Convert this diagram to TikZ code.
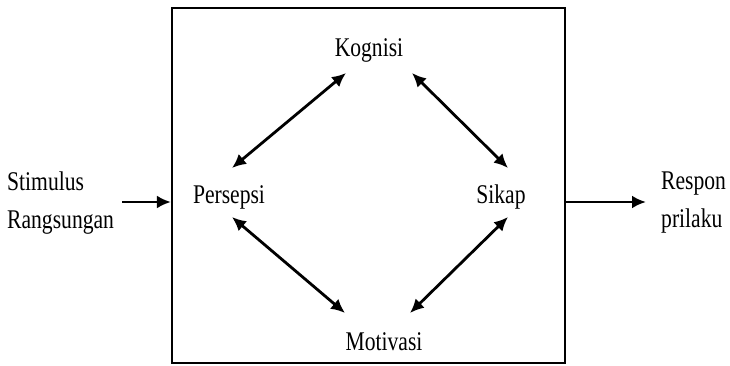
\documentclass[tikz,border=0pt]{standalone}
\usepackage{fontspec}
\setmainfont{Liberation Serif}[FakeStretch=0.8]
\usetikzlibrary{arrows.meta}
\begin{document}
\begin{tikzpicture}[x=1pt,y=-1pt,
  lbl/.style={font=\fontsize{27}{38}\selectfont, inner sep=0pt},
  conn/.style={line width=2.8pt, {Latex[length=14pt,width=13pt]}-{Latex[length=14pt,width=13pt]}},
  flow/.style={line width=2.8pt, -{Latex[length=14pt,width=13pt]}},
  frame/.style={draw, line width=2.2pt, minimum width=393pt, minimum height=355pt, inner sep=0pt}]
\useasboundingbox (0,0) rectangle (730,366);
\node[frame] (box) at (368.5,185.5) {};
\node[lbl] (kog) at (369,50) {Kognisi};
\node[lbl] (per) at (229,197) {Persepsi};
\node[lbl] (sik) at (501,197) {Sikap};
\node[lbl] (mot) at (384,342) {Motivasi};
\node[lbl, align=left, anchor=west] (stim) at (7,203) {Stimulus\\Rangsungan};
\node[lbl, align=left, anchor=west] (resp) at (661,203) {Respon\\prilaku};
\coordinate (kp1) at (346,73);
\coordinate (kp2) at (232,168);
\coordinate (ks1) at (412,73);
\coordinate (ks2) at (508,168);
\coordinate (pm1) at (232,217);
\coordinate (pm2) at (345,313);
\coordinate (sm1) at (508,217);
\coordinate (sm2) at (410,313);
\coordinate (inS) at (122,202);
\coordinate (outE) at (646,202);
\draw[conn] (kp1) -- (kp2);
\draw[conn] (ks1) -- (ks2);
\draw[conn] (pm1) -- (pm2);
\draw[conn] (sm1) -- (sm2);
\draw[flow] (inS) -- (box.west |- inS);
\draw[flow] (box.east |- outE) -- (outE);
\end{tikzpicture}
\end{document}
